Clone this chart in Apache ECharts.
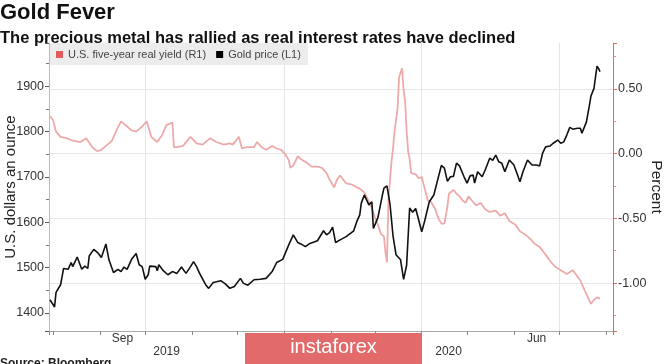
<!DOCTYPE html>
<html><head><meta charset="utf-8">
<script src="https://cdn.jsdelivr.net/npm/echarts@6/dist/echarts.min.js"></script>
<style>html,body{margin:0;padding:0;background:#fff}#c{width:665px;height:364px}</style>
</head><body><div id="c"></div>
<script>
const titleText = 'Gold Fever';
const subtitleText = 'The precious metal has rallied as real interest rates have declined';
const sourceText = 'Source: Bloomberg';
const watermarkText = 'instaforex';
const leftAxisName = 'U.S. dollars an ounce';
const rightAxisName = 'Percent';
const yieldName = 'U.S. five-year real yield (R1)';
const goldName = 'Gold price (L1)';

// x values: days after 1 Aug 2019
const goldDays = [-2,1,2,3,5,7,10,12,13,16,19,21,23,24,27,30,32,35,37,40,43,45,47,49,52,55,57,59,61,63,64,68,69,70,73,76,79,82,85,88,91,93,95,97,101,103,106,111,114,117,120,124,126,129,133,137,141,145,148,152,156,159,162,164,167,170,175,179,181,183,185,187,190,194,199,201,203,204,206,209,211,212,215,218,219,221,223,225,227,230,232,234,236,238,240,244,246,249,252,254,257,259,261,263,265,267,269,272,274,276,278,279,281,284,286,289,291,293,295,297,299,302,305,307,309,311,314,317,320,322,324,326,329,331,334,336,338,340,342,344,347,349,350,353,355,356,358,359,360,361,362];
const goldPrice = [1429,1413,1445,1442,1462,1498,1496,1511,1502,1523,1496,1503,1498,1526,1540,1531,1522,1552,1517,1489,1496,1491,1501,1496,1518,1531,1506,1502,1474,1484,1503,1502,1493,1506,1493,1484,1491,1487,1501,1487,1502,1513,1502,1487,1462,1454,1467,1471,1464,1454,1458,1476,1465,1461,1473,1474,1476,1491,1511,1518,1550,1572,1555,1552,1546,1553,1559,1581,1572,1577,1589,1555,1561,1568,1581,1601,1616,1642,1660,1638,1645,1586,1610,1660,1675,1680,1640,1570,1528,1517,1474,1505,1631,1622,1630,1579,1603,1645,1660,1686,1725,1719,1690,1700,1701,1730,1724,1700,1686,1702,1704,1686,1711,1700,1715,1741,1736,1748,1733,1730,1711,1737,1726,1708,1689,1711,1737,1726,1726,1724,1752,1766,1768,1774,1781,1774,1777,1792,1809,1805,1807,1807,1796,1821,1858,1878,1895,1920,1944,1939,1932];

const yieldDays = [-2,0,2,5,9,13,18,22,26,29,32,36,39,42,45,49,52,55,59,62,65,69,72,75,79,80,82,86,91,95,99,104,108,113,117,119,123,125,128,133,135,138,141,145,148,151,154,156,157,159,162,165,168,171,175,178,181,183,186,188,190,192,194,198,201,203,206,209,211,213,215,217,219,220,221,222,224,225,226,228,229,231,232,233,234,235,236,237,240,242,244,246,248,250,253,255,257,259,261,262,265,267,269,271,273,275,277,280,283,286,289,293,296,299,302,306,309,312,316,319,322,326,329,332,336,340,344,349,352,354,356,358,360,362];
const yieldPct = [0.29,0.26,0.17,0.13,0.12,0.10,0.09,0.12,0.05,0.02,0.03,0.07,0.10,0.18,0.25,0.21,0.18,0.17,0.21,0.25,0.13,0.09,0.14,0.22,0.24,0.05,0.05,0.06,0.13,0.08,0.07,0.12,0.09,0.07,0.08,0.07,0.13,0.04,0.05,0.05,0.09,0.05,0.03,0.06,0.04,0.03,-0.01,-0.05,-0.11,-0.09,-0.02,-0.05,-0.07,-0.10,-0.10,-0.11,-0.15,-0.20,-0.26,-0.20,-0.17,-0.20,-0.23,-0.24,-0.26,-0.27,-0.30,-0.37,-0.42,-0.49,-0.55,-0.62,-0.64,-0.76,-0.84,-0.35,-0.06,0.04,0.17,0.35,0.59,0.66,0.49,0.41,0.17,0.02,-0.04,-0.15,-0.16,-0.19,-0.18,-0.27,-0.36,-0.37,-0.43,-0.50,-0.54,-0.54,-0.41,-0.31,-0.28,-0.31,-0.33,-0.36,-0.38,-0.33,-0.36,-0.40,-0.38,-0.43,-0.45,-0.44,-0.48,-0.46,-0.52,-0.55,-0.60,-0.62,-0.66,-0.70,-0.72,-0.78,-0.83,-0.87,-0.90,-0.93,-0.90,-0.98,-1.06,-1.11,-1.16,-1.13,-1.11,-1.12];

const monthLabels = ['Sep', 'Jun'];
const monthLabelYearMonth = [[2019, 8], [2020, 5]];
const yearLabels = ['2019', '2020'];

const FONT = '"Liberation Sans", Arial, sans-serif';
const DAY = 86400000;
const base = Date.UTC(2019, 7, 1);
const toTime = d => base + d * DAY;
const xMin = Date.UTC(2019, 6, 29, 8);
const xMax = Date.UTC(2020, 7, 5, 14);

const chart = echarts.init(document.getElementById('c'), null, {renderer: 'canvas'});
const option = {
  animation: false,
  useUTC: true,
  title: [
    {text: titleText, left: 0, top: 2, padding: 0, textStyle: {fontFamily: FONT, fontSize: 22, fontWeight: 'bold', color: '#111'}},
    {text: subtitleText, left: 0, top: 30, padding: 0, textStyle: {fontFamily: FONT, fontSize: 16.5, fontWeight: 'bold', color: '#111'}}
  ],
  legend: {
    left: 50, top: 43, padding: [6, 7, 5, 6], backgroundColor: '#ececec',
    itemWidth: 7, itemHeight: 7, itemGap: 10, icon: 'rect',
    textStyle: {fontFamily: FONT, fontSize: 11, color: '#444'},
    data: [{name: yieldName, itemStyle: {color: '#e35b5b'}}, {name: goldName, itemStyle: {color: '#000'}}]
  },
  grid: {left: 49, right: 52, top: 43, bottom: 33, containLabel: false, outerBoundsMode: 'none'},
  xAxis: [
    {type: 'time', min: xMin, max: xMax, position: 'bottom',
     minInterval: 28 * DAY, maxInterval: 31 * DAY,
     axisLine: {onZero: false, lineStyle: {color: '#aaa', width: 1}},
     axisTick: {show: true, length: 4, lineStyle: {color: '#888'}},
     axisLabel: {show: false}, splitLine: {show: false}},
    {type: 'time', min: xMin, max: xMax, position: 'top',
     minInterval: 100 * DAY, maxInterval: 100 * DAY,
     axisLine: {show: false, onZero: false}, axisTick: {show: false}, axisLabel: {show: false},
     splitLine: {show: true, lineStyle: {color: '#e7e2ec', width: 1}}}
  ],
  yAxis: [
    {type: 'value', position: 'left', min: 1360, max: 1995,
     axisLine: {show: true, onZero: false, lineStyle: {color: '#bbb'}},
     axisTick: {show: true, length: 4, lineStyle: {color: '#555'}},
     minorTick: {show: true, splitNumber: 2, length: 3, lineStyle: {color: '#777'}},
     axisLabel: {fontFamily: FONT, fontSize: 12.5, color: '#333', margin: 5, showMinLabel: false, showMaxLabel: false,
                 formatter: v => String(v)},
     splitLine: {show: false},
     name: leftAxisName, nameLocation: 'middle', nameGap: 31, nameMoveOverlap: false,
     nameTextStyle: {fontFamily: FONT, fontSize: 15, color: '#222'}},
    {type: 'value', position: 'right', min: -1.37, max: 0.855,
     axisLine: {show: true, onZero: false, lineStyle: {color: '#e06a6a'}},
     axisTick: {show: true, length: 4, lineStyle: {color: '#e06a6a'}},
     minorTick: {show: true, splitNumber: 2, length: 3, lineStyle: {color: '#e08a8a'}},
     axisLabel: {fontFamily: FONT, fontSize: 12.5, color: '#333', margin: 5, showMinLabel: false, showMaxLabel: false,
                 formatter: v => v.toFixed(2)},
     splitLine: {show: true, showMinLine: false, showMaxLine: false, lineStyle: {color: '#e9e6e9'}},
     name: rightAxisName, nameLocation: 'middle', nameGap: 35, nameRotate: -90, nameMoveOverlap: false,
     nameTextStyle: {fontFamily: FONT, fontSize: 15.5, color: '#222'}}
  ],
  series: [
    {name: yieldName, type: 'line', xAxisIndex: 0, yAxisIndex: 1, symbol: 'none',
     lineStyle: {color: '#eeaaaa', width: 1.8}, itemStyle: {color: '#eeaaaa'},
     data: yieldDays.map((d, i) => [toTime(d), yieldPct[i]])},
    {name: goldName, type: 'line', xAxisIndex: 0, yAxisIndex: 0, symbol: 'none',
     lineStyle: {color: '#111', width: 1.6}, itemStyle: {color: '#111'},
     data: goldDays.map((d, i) => [toTime(d), goldPrice[i]])}
  ]
};
chart.setOption(option);

const px = t => chart.convertToPixel({xAxisIndex: 0}, t);
const g = [];
monthLabels.forEach((m, i) => {
  const [y, mo] = monthLabelYearMonth[i];
  const mid = (Date.UTC(y, mo, 1) + Date.UTC(y, mo + 1, 1)) / 2;
  g.push({type: 'text', x: px(mid), y: 333, silent: true,
    style: {text: m, align: 'center', verticalAlign: 'top', font: '12px ' + FONT, fill: '#333'}});
});
yearLabels.forEach(yl => {
  const s = Math.max(xMin, Date.UTC(+yl, 0, 1));
  const e = Math.min(xMax, Date.UTC(+yl + 1, 0, 1));
  g.push({type: 'text', x: px((s + e) / 2), y: 346, silent: true,
    style: {text: yl, align: 'center', verticalAlign: 'top', font: '12px ' + FONT, fill: '#333'}});
});
g.push({type: 'text', left: 0, top: 358, silent: true,
  style: {text: sourceText, font: 'bold 12px ' + FONT, fill: '#222'}});
g.push({type: 'rect', shape: {x: 245, y: 333, width: 177, height: 40}, silent: true, z: 100,
  style: {fill: '#e26a6a'}});
g.push({type: 'text', x: 333.5, y: 347, silent: true, z: 101,
  style: {text: watermarkText, align: 'center', verticalAlign: 'middle', font: '20px ' + FONT, fill: '#fff'}});
chart.setOption({graphic: g});
</script></body></html>
